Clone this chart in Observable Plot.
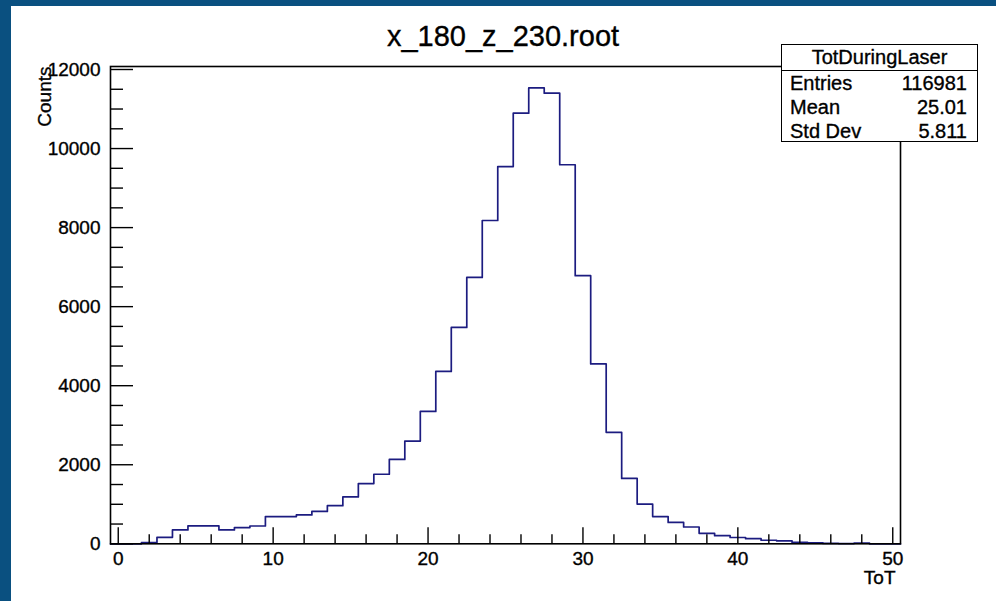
<!DOCTYPE html>
<html>
<head>
<meta charset="utf-8">
<script src="https://cdn.jsdelivr.net/npm/d3@7"></script>
<script src="https://cdn.jsdelivr.net/npm/@observablehq/plot@0.6"></script>
<style>
  html, body { margin: 0; padding: 0; width: 996px; height: 601px; overflow: hidden; background: #0a5080; }
  #canvas { position: absolute; left: 11px; top: 6px; width: 985px; height: 595px; background: #ffffff; }
  #chart { position: absolute; left: 0; top: 0; width: 996px; height: 601px; }
  #chart svg text { stroke: #000; stroke-width: 0.35px; }
  #stats { position: absolute; left: 781px; top: 44px; width: 197px; height: 98px; box-sizing: border-box;
           border: 1.5px solid #000; background: #fff; font-family: 'Liberation Sans', Arial, Helvetica, sans-serif;
           font-size: 20px; color: #000; z-index: 5; -webkit-text-stroke: 0.35px #000; }
  #stats .ttl { height: 25px; line-height: 25px; text-align: center; border-bottom: 1.5px solid #000; }
  #stats .row { height: 24px; line-height: 24px; display: flex; justify-content: space-between; padding: 0 10px 0 8px; }
</style>
</head>
<body>
<div id="canvas"></div>
<div id="chart"></div>
<div id="stats"></div>
<script>
// ---- data ----
const chartTitle = "x_180_z_230.root";
const xLabel = "ToT";
const yLabel = "Counts";
const binCenters = [0,1,2,3,4,5,6,7,8,9,10,11,12,13,14,15,16,17,18,19,20,21,22,23,24,25,26,27,28,29,30,31,32,33,34,35,36,37,38,39,40,41,42,43,44,45,46,47,48,49,50];
const counts = [0,0,30,165,350,455,455,350,410,450,690,690,730,820,965,1185,1525,1760,2135,2600,3350,4360,5475,6740,8180,9545,10895,11535,11400,9590,6785,4550,2820,1655,1005,690,540,425,265,205,160,130,90,75,35,25,10,5,20,0,0];
const xTickValues = [0,10,20,30,40,50];
const yTickValues = [0,2000,4000,6000,8000,10000,12000];
const statsName = "TotDuringLaser";
const statsLabels = ["Entries","Mean","Std Dev"];
const statsValues = ["116981","25.01","5.811"];

// ---- layout ----
const W = 996, H = 601;
const mL = 110, mR = 96, mT = 66, mB = 57.7;
const frameW = W - mL - mR;
const frameH = H - mT - mB;

const xMinor = d3.range(0, 50.01, 2).filter(v => !xTickValues.includes(v));
const yMinor = d3.range(0, 12000.1, 500).filter(v => !yTickValues.includes(v));

const pts = binCenters.map((c, i) => ({x: c - 0.5, y: counts[i]}));
pts.push({x: binCenters[binCenters.length - 1] + 0.5, y: counts[counts.length - 1]});

const font = "'Liberation Sans', Arial, Helvetica, sans-serif";

const chart = Plot.plot({
  width: W, height: H,
  marginLeft: mL, marginRight: mR, marginTop: mT, marginBottom: mB,
  style: {background: "transparent", fontFamily: font, fontSize: "19px", color: "#000", overflow: "visible"},
  x: {domain: [-0.5, 50.5], label: null},
  y: {domain: [0, 12076], label: null},
  marks: [
    Plot.lineY(pts, {x: "x", y: "y", curve: "step-after", stroke: "#1c1c80", strokeWidth: 1.7}),
    Plot.tickX(xTickValues, {x: d => d, insetTop: frameH - 16, stroke: "#000", strokeWidth: 1.4}),
    Plot.tickX(xMinor, {x: d => d, insetTop: frameH - 9, stroke: "#000", strokeWidth: 1.4}),
    Plot.tickY(yTickValues, {y: d => d, insetRight: frameW - 23, stroke: "#000", strokeWidth: 1.4}),
    Plot.tickY(yMinor, {y: d => d, insetRight: frameW - 13, stroke: "#000", strokeWidth: 1.4}),
    Plot.axisX(xTickValues, {tickSize: 0, tickPadding: 8, fontSize: 19, label: null, tickFormat: d => String(d)}),
    Plot.axisY(yTickValues, {tickSize: 0, tickPadding: 10, fontSize: 19, label: null, tickFormat: d => String(d)}),
    Plot.frame({stroke: "#000", strokeWidth: 1.6}),
    Plot.text([chartTitle], {text: d => d, frameAnchor: "top", dx: -2.5, dy: -41, fontSize: 29}),
    Plot.text([yLabel], {text: d => d, frameAnchor: "top-left", rotate: -90, textAnchor: "end", dx: -73, fontSize: 19}),
    Plot.text([xLabel], {text: d => d, frameAnchor: "bottom-right", textAnchor: "end", lineAnchor: "top", dx: -5, dy: 27, fontSize: 19})
  ]
});
document.getElementById("chart").appendChild(chart);

// stats box
const stats = document.getElementById("stats");
const t = document.createElement("div");
t.className = "ttl";
t.textContent = statsName;
stats.appendChild(t);
statsLabels.forEach((lab, i) => {
  const r = document.createElement("div");
  r.className = "row";
  const a = document.createElement("span"); a.textContent = lab;
  const b = document.createElement("span"); b.textContent = statsValues[i];
  r.appendChild(a); r.appendChild(b);
  stats.appendChild(r);
});
</script>
</body>
</html>
